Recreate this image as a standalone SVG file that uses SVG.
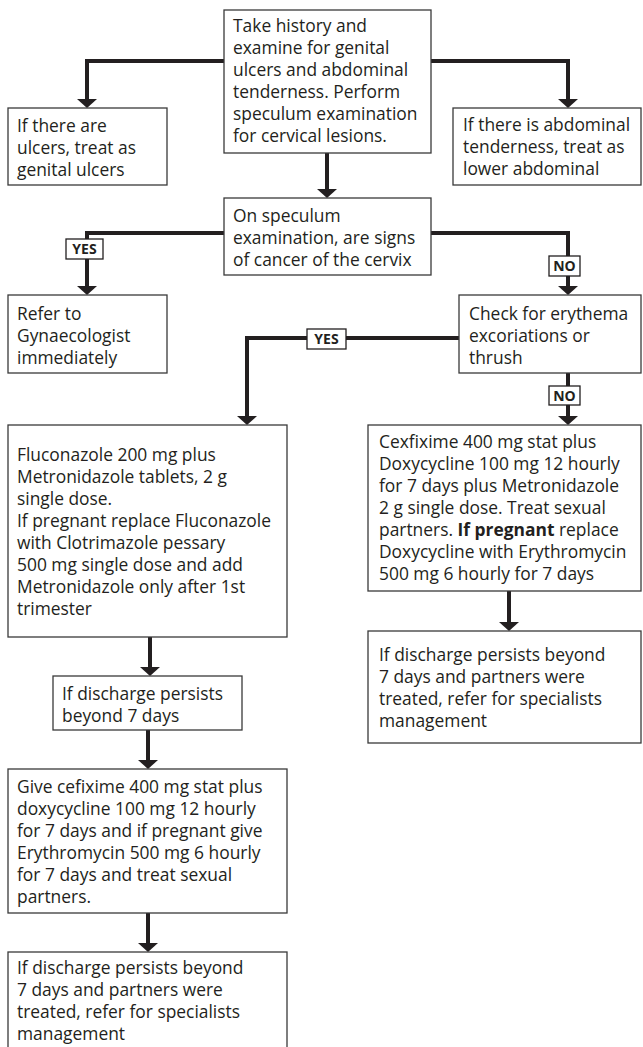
<svg xmlns="http://www.w3.org/2000/svg" width="643" height="1047" viewBox="0 0 643 1047">
<style>
.box{fill:#fff;stroke:#3a3a3a;stroke-width:1.3}
.t{font-family:"Open Sans","Noto Sans","Liberation Sans",sans-serif;font-size:17.4px;fill:#231f20}
.c{fill:none;stroke:#231f20;stroke-width:4;marker-end:url(#ah)}
.lb{fill:#fff;stroke:#231f20;stroke-width:1.3}
.lt{font-family:"Open Sans","Noto Sans","Liberation Sans",sans-serif;font-weight:bold;font-size:14px;fill:#231f20;text-anchor:middle}
</style>
<defs>
<marker id="ah" markerUnits="userSpaceOnUse" viewBox="0 0 9 20" refX="0" refY="10" markerWidth="9" markerHeight="20" orient="auto">
<path d="M0,0 L9,10 L0,20 z" fill="#231f20"/>
</marker>
</defs>
<rect width="643" height="1047" fill="#fff"/>
<g id="connectors">
<path class="c" d="M224,61 H87 V99"/>
<path class="c" d="M431,61 H568 V99"/>
<path class="c" d="M327,153 V189"/>
<path class="c" d="M224,233 H87 V286"/>
<path class="c" d="M431,233 H568 V286"/>
<path class="c" d="M459,338 H247 V416"/>
<path class="c" d="M568,373 V416"/>
<path class="c" d="M150,637 V667"/>
<path class="c" d="M509,591 V622"/>
<path class="c" d="M148,730 V760"/>
<path class="c" d="M148,913 V943"/>
<g id="lbl-yes1"><rect class="lb" x="66" y="239" width="37" height="20"/><text class="lt" x="84.5" y="254">YES</text></g>
<g id="lbl-no1"><rect class="lb" x="549" y="256" width="31" height="20"/><text class="lt" x="564.5" y="271">NO</text></g>
<g id="lbl-yes2"><rect class="lb" x="307" y="329" width="39" height="20"/><text class="lt" x="326.5" y="344">YES</text></g>
<g id="lbl-no2"><rect class="lb" x="549" y="386" width="31" height="19"/><text class="lt" x="564.5" y="400.5">NO</text></g>
</g>
<g id="n-start">
<rect class="box" x="224" y="10" width="207" height="143"/>
<text class="t"><tspan x="233" y="32">Take history and</tspan><tspan x="233" y="54">examine for genital</tspan><tspan x="233" y="76">ulcers and abdominal</tspan><tspan x="233" y="98">tenderness. Perform</tspan><tspan x="233" y="120">speculum examination</tspan><tspan x="233" y="142">for cervical lesions.</tspan></text>
</g>
<g id="n-ulcers">
<rect class="box" x="8" y="108" width="159" height="77"/>
<text class="t"><tspan x="17" y="132">If there are</tspan><tspan x="17" y="154">ulcers, treat as</tspan><tspan x="17" y="176">genital ulcers</tspan></text>
</g>
<g id="n-abdominal">
<rect class="box" x="453" y="108" width="188" height="77"/>
<text class="t"><tspan x="463" y="131">If there is abdominal</tspan><tspan x="463" y="153">tenderness, treat as</tspan><tspan x="463" y="175">lower abdominal</tspan></text>
</g>
<g id="n-decision">
<rect class="box" x="224" y="198" width="207" height="77"/>
<text class="t"><tspan x="233" y="222">On speculum</tspan><tspan x="233" y="244">examination, are signs</tspan><tspan x="233" y="266">of cancer of the cervix</tspan></text>
</g>
<g id="n-refer">
<rect class="box" x="8" y="295" width="159" height="78"/>
<text class="t"><tspan x="17" y="320">Refer to</tspan><tspan x="17" y="342">Gynaecologist</tspan><tspan x="17" y="364">immediately</tspan></text>
</g>
<g id="n-check">
<rect class="box" x="459" y="295" width="182" height="78"/>
<text class="t"><tspan x="469" y="320">Check for erythema</tspan><tspan x="469" y="342">excoriations or</tspan><tspan x="469" y="364">thrush</tspan></text>
</g>
<g id="n-fluconazole">
<rect class="box" x="8" y="425" width="279" height="212"/>
<text class="t"><tspan x="17" y="461">Fluconazole 200 mg plus</tspan><tspan x="17" y="483">Metronidazole tablets, 2 g</tspan><tspan x="17" y="505">single dose.</tspan><tspan x="17" y="527">If pregnant replace Fluconazole</tspan><tspan x="17" y="549">with Clotrimazole pessary</tspan><tspan x="17" y="571">500 mg single dose and add</tspan><tspan x="17" y="593">Metronidazole only after 1st</tspan><tspan x="17" y="615">trimester</tspan></text>
</g>
<g id="n-cefixime-right">
<rect class="box" x="368" y="425" width="273" height="166"/>
<text class="t"><tspan x="379" y="448">Cexfixime 400 mg stat plus</tspan><tspan x="379" y="470">Doxycycline 100 mg 12 hourly</tspan><tspan x="379" y="492">for 7 days plus Metronidazole</tspan><tspan x="379" y="514">2 g single dose. Treat sexual</tspan><tspan x="379" y="536">partners. <tspan font-weight="bold">If pregnant</tspan> replace</tspan><tspan x="379" y="558">Doxycycline with Erythromycin</tspan><tspan x="379" y="580">500 mg 6 hourly for 7 days</tspan></text>
</g>
<g id="n-refer-right">
<rect class="box" x="368" y="631" width="273" height="112"/>
<text class="t"><tspan x="379" y="661">If discharge persists beyond</tspan><tspan x="379" y="683">7 days and partners were</tspan><tspan x="379" y="705">treated, refer for specialists</tspan><tspan x="379" y="727">management</tspan></text>
</g>
<g id="n-persists">
<rect class="box" x="53" y="676" width="189" height="54"/>
<text class="t"><tspan x="62" y="700">If discharge persists</tspan><tspan x="62" y="722">beyond 7 days</tspan></text>
</g>
<g id="n-cefixime-left">
<rect class="box" x="8" y="769" width="279" height="144"/>
<text class="t"><tspan x="17" y="793">Give cefixime 400 mg stat plus</tspan><tspan x="17" y="815">doxycycline 100 mg 12 hourly</tspan><tspan x="17" y="837">for 7 days and if pregnant give</tspan><tspan x="17" y="859">Erythromycin 500 mg 6 hourly</tspan><tspan x="17" y="881">for 7 days and treat sexual</tspan><tspan x="17" y="903">partners.</tspan></text>
</g>
<g id="n-refer-left">
<rect class="box" x="8" y="952" width="279" height="100"/>
<text class="t"><tspan x="17" y="974">If discharge persists beyond</tspan><tspan x="17" y="996">7 days and partners were</tspan><tspan x="17" y="1018">treated, refer for specialists</tspan><tspan x="17" y="1040">management</tspan></text>
</g>
</svg>
